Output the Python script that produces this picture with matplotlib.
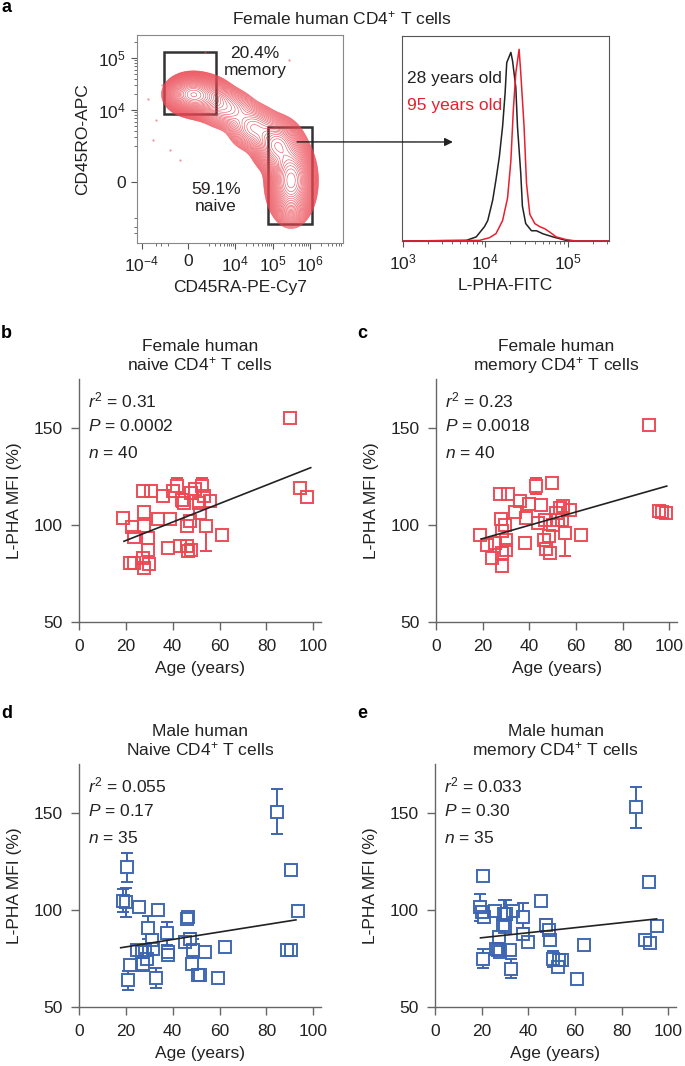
import numpy as np
import matplotlib
matplotlib.use('Agg')
from matplotlib import pyplot as plt
from matplotlib.patches import Rectangle


RED = '#ec4853'
BLUE = '#3c64b0'
DARK = '#222222'
SPINE = '#666666'

# panel a, flow plot (channel units 0-1000 on both axes)
FLOW_XTICKS = [24, 248, 476, 660, 840]
FLOW_XLABELS = ['10$^{-4}$', '0', '10$^{4}$', '10$^{5}$', '10$^{6}$']
FLOW_YTICKS = [293, 639, 889]
FLOW_YLABELS = ['0', '10$^{4}$', '10$^{5}$']

# populations seen in the contour plot: centre, spread, weight
POP_X = [265, 335, 440, 565, 680, 748]
POP_Y = [715, 700, 645, 555, 470, 300]
POP_SX = [50, 55, 60, 55, 50, 45]
POP_SY = [38, 42, 45, 50, 55, 78]
POP_W = [0.9, 0.35, 0.15, 0.18, 0.45, 1.0]

EVENT_X = [55, 80, 160, 210, 310, 90, 740, 330, 120]
EVENT_Y = [690, 495, 445, 400, 255, 590, 880, 920, 760]

# histogram, log10 L-PHA-FITC vs normalised count
YOUNG_LOG = [2.99, 3.77, 3.89, 3.99, 4.03, 4.09, 4.13, 4.17, 4.21, 4.24, 4.26, 4.28, 4.31,
             4.33, 4.37, 4.39, 4.43, 4.45, 4.49, 4.56, 4.62, 4.70, 4.82, 4.98, 5.06, 5.5]
YOUNG_H = [0, 0.003, 0.02, 0.07, 0.10, 0.20, 0.30, 0.41, 0.56, 0.72, 0.87, 0.89, 0.92,
           0.88, 0.75, 0.56, 0.33, 0.17, 0.085, 0.05, 0.05, 0.035, 0.02, 0.003, 0, 0]
OLD_LOG = [2.99, 3.93, 4.05, 4.13, 4.21, 4.27, 4.31, 4.34, 4.37, 4.41, 4.43, 4.47, 4.50,
           4.54, 4.60, 4.66, 4.72, 4.78, 4.86, 4.98, 5.10, 5.5]
OLD_H = [0, 0.003, 0.016, 0.036, 0.10, 0.21, 0.39, 0.64, 0.82, 0.935, 0.82, 0.56, 0.28,
         0.13, 0.085, 0.07, 0.06, 0.044, 0.02, 0.007, 0, 0]

# panel b, female naive
B_AGE = [18.6, 22.8, 23.5, 21.8, 23.5, 27.5, 30.9, 27.7, 27.7, 29.6, 29.6, 27.5, 27.7, 29.9,
         33.8, 36.0, 38.0, 38.8, 40.3, 41.7, 43.8, 44.8, 43.1, 46.0, 46.0, 46.7, 48.0, 47.4,
         48.0, 49.5, 51.4, 52.3, 53.3, 54.2, 51.6, 55.9, 60.9, 90.0, 94.3, 97.2]
B_MFI = [103.6, 99.0, 94.0, 80.5, 80.5, 117.6, 117.6, 106.7, 99.5, 93.4, 87.4, 83.0, 78.0, 79.7,
         103.0, 115.0, 88.0, 103.0, 117.6, 120.0, 113.0, 111.5, 89.5, 89.0, 99.5, 86.6, 87.4, 102.0,
         116.7, 118.5, 111.5, 120.0, 115.0, 99.5, 106.4, 112.4, 94.8, 155.5, 119.3, 114.5]
B_ERR = [0, 0, 0, 0, 0, 0, 0, 0, 0, 0, 0, 0, 0, 0,
         0, 0, 0, 0, 0, 4.5, 3.5, 0, 0, 0, 0, 0, 0, 0,
         0, 0, 0, 4.5, 0, 13.0, 0, 0, 0, 0, 0, 0]
B_FIT_X = [19.2, 98.9]
B_FIT_Y = [91.7, 129.7]

# panel c, female memory
C_AGE = [18.8, 21.7, 23.8, 25.2, 27.4, 30.9, 27.8, 28.1, 28.3, 28.1, 29.5, 30.2, 30.2, 33.8,
         35.9, 38.0, 38.7, 39.9, 43.0, 43.7, 45.2, 46.6, 46.2, 47.3, 48.4, 49.0, 49.9, 50.1,
         51.3, 52.3, 53.3, 54.1, 54.4, 55.1, 57.3, 62.3, 91.2, 95.4, 96.9, 98.6]
C_MFI = [94.8, 90.0, 83.0, 90.9, 115.9, 115.9, 103.0, 96.9, 85.7, 78.8, 100.3, 92.6, 87.4, 106.7,
         112.4, 90.9, 103.8, 111.2, 120.2, 101.2, 110.2, 102.9, 92.2, 87.9, 94.3, 85.7, 121.9, 100.3,
         106.4, 102.9, 109.0, 102.9, 109.8, 96.0, 108.0, 94.7, 151.5, 107.2, 106.7, 106.4]
C_ERR = [0, 0, 0, 0, 0, 0, 0, 0, 0, 0, 0, 0, 0, 0,
         0, 0, 0, 0, 4.0, 0, 0, 0, 0, 0, 0, 0, 0, 0,
         0, 0, 0, 0, 0, 12.0, 0, 0, 0, 0, 0, 0]
C_FIT_X = [19.5, 98.9]
C_FIT_Y = [92.9, 120.2]

# panel d, male naive
D_AGE = [20.3, 18.9, 20.1, 20.8, 21.8, 24.6, 25.7, 26.7, 27.5, 28.2, 28.9, 29.6, 31.0, 31.7,
         32.7, 33.9, 37.4, 38.1, 38.1, 45.2, 46.2, 46.7, 47.4, 48.8, 48.1, 50.9, 51.6, 53.8,
         59.5, 62.3, 84.4, 90.5, 88.9, 90.3, 93.6]
D_MFI = [122.2, 105.0, 104.1, 63.7, 71.5, 79.2, 101.5, 78.4, 72.3, 79.6, 74.9, 90.9, 84.4, 80.1,
         65.0, 100.2, 88.1, 78.4, 76.6, 83.5, 95.5, 96.4, 85.2, 79.2, 72.3, 66.7, 66.3, 78.4,
         65.1, 80.9, 150.9, 120.8, 79.2, 79.2, 99.5]
D_ERR = [7.5, 6.0, 7.5, 5.0, 0, 0, 0, 0, 3.5, 0, 0, 6.0, 0, 0,
         5.0, 0, 6.0, 0, 0, 0, 0, 0, 3.0, 6.0, 0, 0, 0, 0,
         0, 0, 11.5, 2.5, 0, 0, 0]
D_FIT_X = [17.8, 92.6]
D_FIT_Y = [80.6, 95.0]

# panel e, male memory
E_AGE = [20.6, 19.2, 20.3, 20.9, 20.6, 25.6, 26.3, 27.0, 27.5, 27.7, 29.2, 29.5, 30.6, 29.9,
         32.0, 32.7, 33.4, 37.7, 37.7, 39.8, 45.5, 47.7, 48.8, 49.4, 50.5, 52.6, 53.3, 54.5,
         60.7, 64.0, 86.1, 91.7, 90.0, 92.0, 95.3]
E_MFI = [117.9, 101.5, 99.0, 96.4, 74.9, 99.8, 80.1, 79.2, 86.1, 78.4, 92.1, 98.1, 98.1, 91.2,
         79.2, 69.8, 99.8, 96.7, 87.8, 83.5, 104.6, 92.1, 89.9, 84.7, 74.9, 70.6, 74.4, 74.4,
         64.6, 81.8, 153.1, 114.8, 84.4, 83.2, 91.6]
E_ERR = [0, 7.0, 0, 3.0, 5.0, 0, 0, 0, 0, 0, 0, 7.0, 7.0, 0,
         0, 5.0, 0, 7.0, 3.0, 0, 0, 3.5, 0, 0, 4.0, 0, 0, 0,
         0, 0, 10.5, 0, 0, 0, 0]
E_FIT_X = [19.5, 95.0]
E_FIT_Y = [85.7, 95.5]

FS = 12.5
W, H = 685, 1066


def px_rect(left, top, right, bottom):
    return [left / W, 1 - bottom / H, (right - left) / W, (bottom - top) / H]


def flow_panel(fig):
    ax = fig.add_axes(px_rect(137, 35, 343, 243))
    gx, gy = np.meshgrid(np.linspace(0, 1000, 400), np.linspace(0, 1000, 400))
    dens = np.zeros_like(gx)
    for x0, y0, sx, sy, w in zip(POP_X, POP_Y, POP_SX, POP_SY, POP_W):
        dens += w * np.exp(-0.5 * (((gx - x0) / sx) ** 2 + ((gy - y0) / sy) ** 2))
    levels = np.geomspace(0.012, 0.97, 34) * dens.max()
    ax.contour(gx, gy, dens, levels=levels, colors=RED, linewidths=0.4)
    ax.plot(EVENT_X, EVENT_Y, '.', ms=1.0, color=RED, alpha=0.7)

    ax.add_patch(Rectangle((131, 620), 252, 298, fill=False, lw=1.8, ec='#333333'))
    ax.add_patch(Rectangle((636, 91), 214, 467, fill=False, lw=1.8, ec='#333333'))
    ax.text(573, 870, '20.4%\nmemory', ha='center', va='center', fontsize=FS, color=DARK)
    ax.text(383, 216, '59.1%\nnaive', ha='center', va='center', fontsize=FS, color=DARK)

    ax.set_xlim(0, 1000)
    ax.set_ylim(0, 1000)
    ax.set_xticks(FLOW_XTICKS, FLOW_XLABELS)
    ax.set_yticks(FLOW_YTICKS, FLOW_YLABELS)

    xminor = []
    for base, per in [(292, 184), (476, 184), (660, 180), (840, 180)]:
        for k in range(2, 10):
            p = base + np.log10(k) * per
            if p < 1000:
                xminor.append(p)
    xminor += [248 - (p - 248) for p in xminor if p < 420 and 248 - (p - 248) > 0]
    yminor = []
    for base, per in [(389, 250), (639, 250), (889, 250)]:
        for k in range(2, 10):
            p = base + np.log10(k) * per
            if p < 1000:
                yminor.append(p)
    yminor += [293 - (p - 293) for p in yminor if p < 560]
    ax.set_xticks(xminor, minor=True)
    ax.set_yticks([p for p in yminor if p > 0], minor=True)

    for s in ax.spines.values():
        s.set_color('#888888')
        s.set_linewidth(0.8)
    ax.tick_params(which='both', direction='out', color='#555555', labelsize=FS, labelcolor=DARK)
    ax.tick_params(which='major', length=4, pad=4)
    ax.tick_params(which='minor', length=2)
    ax.set_xlabel('CD45RA-PE-Cy7', fontsize=FS, color=DARK, labelpad=4)
    ax.set_ylabel('CD45RO-APC', fontsize=FS, color=DARK, labelpad=6)
    return ax


def hist_panel(fig, flow_ax):
    ax = fig.add_axes(px_rect(402, 36, 609, 241))
    ax.plot(10 ** np.array(YOUNG_LOG), YOUNG_H, color=DARK, lw=1.1)
    ax.plot(10 ** np.array(OLD_LOG), OLD_H, color='#e8202e', lw=1.1)
    ax.set_xscale('log')
    ax.set_xlim(10 ** 2.99, 10 ** 5.5)
    ax.set_ylim(0, 1.0)
    ax.set_yticks([])
    ax.set_xticks([1e3, 1e4, 1e5], ['10$^{3}$', '10$^{4}$', '10$^{5}$'])
    for s in ax.spines.values():
        s.set_color('#555555')
        s.set_linewidth(0.8)
    ax.tick_params(which='both', direction='out', color='#555555', labelsize=FS, labelcolor=DARK)
    ax.tick_params(which='major', length=4, pad=4)
    ax.tick_params(which='minor', length=2)
    ax.set_xlabel('L-PHA-FITC', fontsize=FS, color=DARK, labelpad=4)
    ax.text(0.024, 0.795, '28 years old', transform=ax.transAxes, fontsize=FS, color=DARK, va='center')
    ax.text(0.024, 0.663, '95 years old', transform=ax.transAxes, fontsize=FS, color='#e8202e', va='center')
    ax.annotate('', xy=(0.246, 0.483), xycoords=ax.transAxes,
                xytext=(777, 486), textcoords=flow_ax.transData,
                arrowprops=dict(arrowstyle='-|>', color=DARK, lw=1.0, mutation_scale=12,
                                shrinkA=0, shrinkB=0))
    return ax


def scatter_panel(fig, rect, ages, mfi, err, fit_x, fit_y, color, title, stats):
    ax = fig.add_axes(rect)
    ages = np.array(ages)
    mfi = np.array(mfi)
    err = np.array(err)
    has = err > 0
    ax.errorbar(ages[has], mfi[has], yerr=err[has], fmt='none', ecolor=color,
                elinewidth=1.4, capsize=4.6, capthick=1.4, zorder=2)
    ax.plot(ages, mfi, 's', ms=8.6, mfc='white', mec='none', zorder=3)
    ax.plot(ages, mfi, 's', ms=9.2, mfc='none', mec=color, mew=1.45, zorder=4, alpha=0.95)
    ax.plot(fit_x, fit_y, color=DARK, lw=1.2, zorder=5)

    ax.set_xlim(0, 103.3)
    ax.set_ylim(50, 175.5)
    ax.set_xticks([0, 20, 40, 60, 80, 100])
    ax.set_yticks([50, 100, 150])
    ax.spines['top'].set_visible(False)
    ax.spines['right'].set_visible(False)
    for s in ['left', 'bottom']:
        ax.spines[s].set_color(SPINE)
        ax.spines[s].set_linewidth(1.0)
    ax.tick_params(direction='out', length=6, width=1.0, color=SPINE, labelsize=FS,
                   labelcolor=DARK, pad=6)
    ax.set_xlabel('Age (years)', fontsize=FS, color=DARK, labelpad=5)
    ax.set_ylabel('L-PHA MFI (%)', fontsize=FS, color=DARK, labelpad=8)
    ax.set_title(title, fontsize=FS, color=DARK, pad=6, linespacing=1.1)
    for txt, yy in zip(stats, [0.91, 0.805, 0.697]):
        ax.text(0.037, yy, txt, transform=ax.transAxes, fontsize=FS, color=DARK, va='center')
    return ax


def main():
    plt.rcParams['font.family'] = ['Liberation Sans', 'DejaVu Sans']
    plt.rcParams['mathtext.fontset'] = 'custom'
    plt.rcParams['mathtext.rm'] = 'Liberation Sans'
    plt.rcParams['mathtext.it'] = 'Liberation Sans:italic'
    plt.rcParams['mathtext.bf'] = 'Liberation Sans:bold'

    fig = plt.figure(figsize=(6.85, 10.66), dpi=100)

    flow_ax = flow_panel(fig)
    hist_panel(fig, flow_ax)
    fig.text(342 / W, 1 - 18 / H, 'Female human CD4$^{+}$ T cells', ha='center', va='center',
             fontsize=FS, color=DARK)

    scatter_panel(fig, px_rect(79, 379, 321, 622), B_AGE, B_MFI, B_ERR, B_FIT_X, B_FIT_Y, RED,
                  'Female human\nnaive CD4$^{+}$ T cells',
                  ['$r^{2}$ = 0.31', '$P$ = 0.0002', '$n$ = 40'])
    scatter_panel(fig, px_rect(436, 379, 677, 622), C_AGE, C_MFI, C_ERR, C_FIT_X, C_FIT_Y, RED,
                  'Female human\nmemory CD4$^{+}$ T cells',
                  ['$r^{2}$ = 0.23', '$P$ = 0.0018', '$n$ = 40'])
    scatter_panel(fig, px_rect(79, 764, 321, 1007), D_AGE, D_MFI, D_ERR, D_FIT_X, D_FIT_Y, BLUE,
                  'Male human\nNaive CD4$^{+}$ T cells',
                  ['$r^{2}$ = 0.055', '$P$ = 0.17', '$n$ = 35'])
    scatter_panel(fig, px_rect(435, 764, 676, 1007), E_AGE, E_MFI, E_ERR, E_FIT_X, E_FIT_Y, BLUE,
                  'Male human\nmemory CD4$^{+}$ T cells',
                  ['$r^{2}$ = 0.033', '$P$ = 0.30', '$n$ = 35'])

    for letter, x, y in [('a', 1, 8), ('b', 1, 334), ('c', 357, 334), ('d', 1, 714), ('e', 357, 714)]:
        fig.text(x / W, 1 - y / H, letter, fontsize=13, fontweight='bold', ha='left', va='center',
                 color='black')

    fig.savefig('out.png', dpi=100)


if __name__ == '__main__':
    main()
